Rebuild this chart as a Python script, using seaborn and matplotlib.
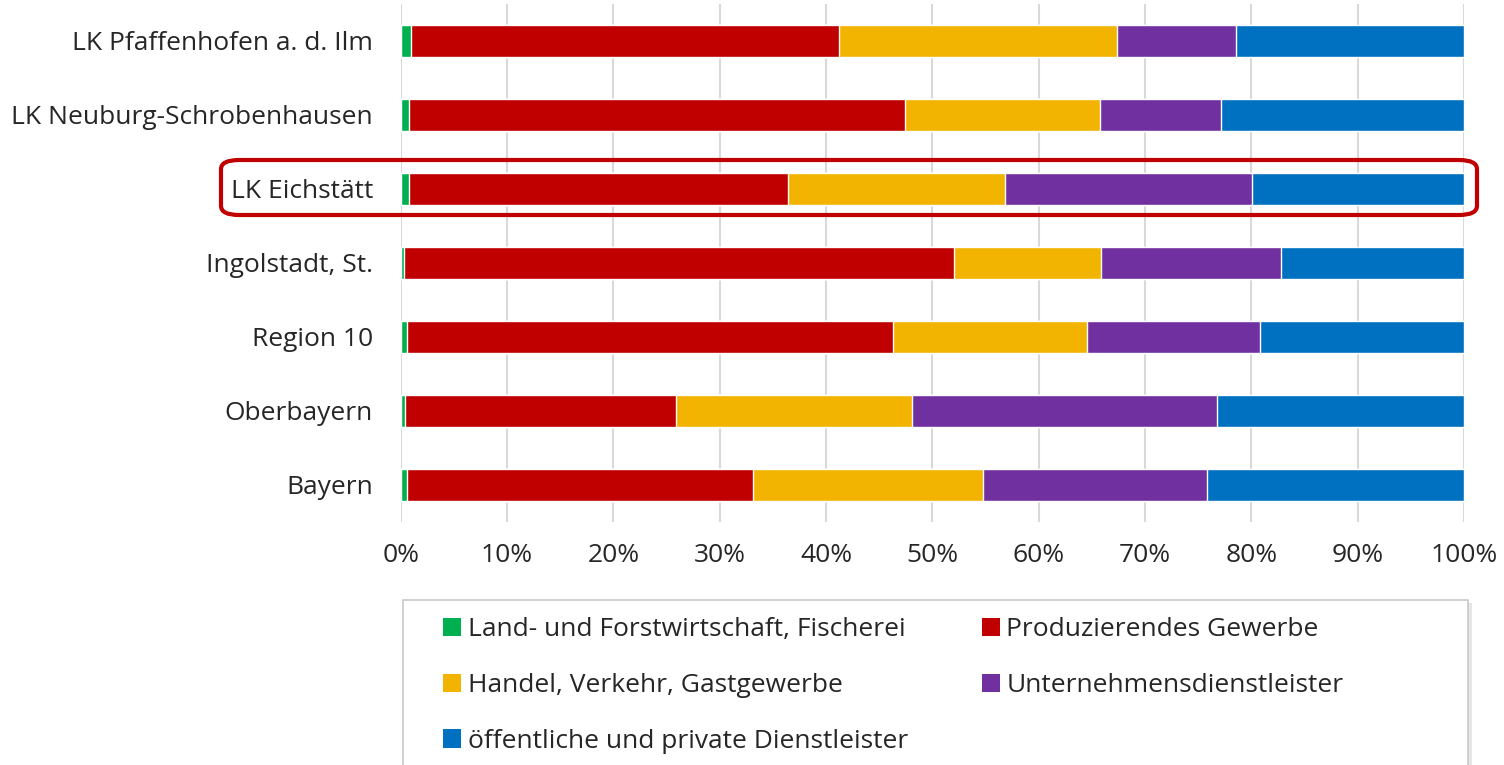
import numpy as np
import pandas as pd
import matplotlib
matplotlib.use("Agg")
import matplotlib.pyplot as plt
import seaborn as sns
from matplotlib.patches import FancyBboxPatch, Rectangle, Patch
from matplotlib.ticker import PercentFormatter

regions = ["LK Pfaffenhofen a. d. Ilm", "LK Neuburg-Schrobenhausen", "LK Eichstätt",
           "Ingolstadt, St.", "Region 10", "Oberbayern", "Bayern"]

sectors = ["Land- und Forstwirtschaft, Fischerei", "Produzierendes Gewerbe",
           "Handel, Verkehr, Gastgewerbe", "Unternehmensdienstleister",
           "öffentliche und private Dienstleister"]

# shares in percent per region
land = [1.0, 0.8, 0.8, 0.3, 0.6, 0.45, 0.6]
prod = [40.2, 46.6, 35.6, 51.7, 45.7, 25.45, 32.5]
handel = [26.2, 18.35, 20.4, 13.9, 18.2, 22.2, 21.65]
unternehmen = [11.2, 11.35, 23.3, 16.9, 16.3, 28.65, 21.05]
oeffentlich = [21.4, 22.9, 19.9, 17.2, 19.2, 23.25, 24.2]

colors = ["#00B050", "#C00000", "#F2B400", "#7030A0", "#0070C0"]

df = pd.DataFrame({"Region": regions, sectors[0]: land, sectors[1]: prod,
                   sectors[2]: handel, sectors[3]: unternehmen, sectors[4]: oeffentlich})
vals = df[sectors]
vals = vals.div(vals.sum(axis=1), axis=0) * 100
cum = vals.cumsum(axis=1)

sns.set_style("white")
plt.rcParams["font.family"] = ["Open Sans", "DejaVu Sans"]
fs = 19
txt = "#262626"

fig = plt.figure(figsize=(15.04, 7.65), dpi=100)
ax = fig.add_axes([400.7 / 1504, 1 - 522 / 765, (1464 - 400.7) / 1504, 518 / 765])

# draw cumulative layers from the right so each covers the next
for s, c in reversed(list(zip(sectors, colors))):
    sns.barplot(x=cum[s], y=df["Region"], orient="h", color=c, width=0.42,
                saturation=1, ax=ax, zorder=3)

ax.set_xlim(0, 100)
ax.set_ylim(6.5, -0.5)
ax.set_xticks(np.arange(0, 101, 10))
ax.xaxis.set_major_formatter(PercentFormatter(decimals=0))
ax.grid(axis="x", color="#D9D9D9", linewidth=1.5, zorder=0)
ax.set_axisbelow(True)
for sp in ax.spines.values():
    sp.set_visible(False)
ax.set_xlabel("")
ax.set_ylabel("")
ax.tick_params(axis="both", length=0, labelsize=fs, colors=txt)
ax.tick_params(axis="x", pad=15)
ax.tick_params(axis="y", pad=20)

# highlight box around LK Eichstätt
fig.patches.append(FancyBboxPatch((221 / 1504, 1 - 215 / 765), (1477 - 221) / 1504, 55 / 765,
                                  boxstyle="round,pad=0,rounding_size=0.012",
                                  transform=fig.transFigure, fill=False,
                                  edgecolor="#C00000", linewidth=3))

# legend frame with a soft shadow
fig.patches.append(Rectangle((406 / 1504, -0.05), 1066 / 1504, 1 - 603 / 765 + 0.05,
                             transform=fig.transFigure, facecolor="#E6E6E6", edgecolor="none"))
fig.patches.append(Rectangle((403 / 1504, -0.05), 1065 / 1504, 1 - 600 / 765 + 0.05,
                             transform=fig.transFigure, facecolor="white", edgecolor="#C8C8C8",
                             linewidth=1.2))

order = [0, 2, 4, 1, 3]
handles = [Patch(facecolor=colors[i], edgecolor="none") for i in order]
labels = [sectors[i] for i in order]
fig.legend(handles, labels, loc="upper left", bbox_to_anchor=(443 / 1504, 1 - 617 / 765),
           ncol=2, frameon=False, fontsize=fs, handlelength=0.68, handleheight=0.68,
           handletextpad=0.25, columnspacing=2.8, labelspacing=1.17, labelcolor=txt,
           borderpad=0, borderaxespad=0)

fig.savefig("out.png", dpi=100)
